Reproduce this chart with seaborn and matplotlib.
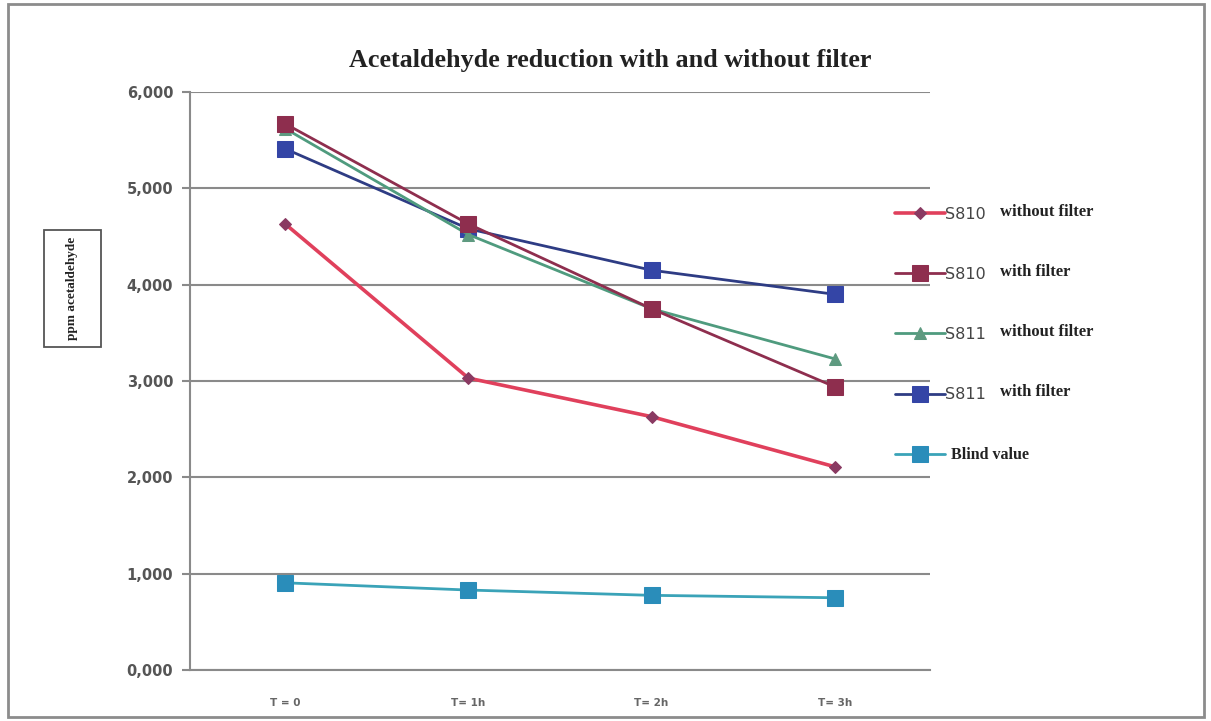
import matplotlib
matplotlib.use("Agg")
import matplotlib.pyplot as plt
from matplotlib.patches import Rectangle
import seaborn as sns
import pandas as pd

# Sampling times and measured acetaldehyde (ppm)
times = ["T = 0", "T= 1h", "T= 2h", "T= 3h"]
s810_without = [4630, 3030, 2630, 2110]
s810_with = [5670, 4630, 3750, 2940]
s811_without = [5620, 4520, 3750, 3230]
s811_with = [5410, 4580, 4150, 3900]
blind = [905, 830, 775, 750]

series_names = ["S810 without filter", "S810 with filter", "S811 without filter",
                "S811 with filter", "Blind value"]
series_values = [s810_without, s810_with, s811_without, s811_with, blind]
legend_main = ["S810", "S810", "S811", "S811", "Blind value"]
legend_suffix = ["without filter", "with filter", "without filter", "with filter", ""]
y_ticks = [0, 1000, 2000, 3000, 4000, 5000, 6000]
y_tick_labels = ["0,000", "1,000", "2,000", "3,000", "4,000", "5,000", "6,000"]

line_colors = ["#E0405C", "#8E2E4E", "#4F9B7E", "#2E3C84", "#3AA3B8"]
marker_colors = ["#8A3A62", "#8E2E4E", "#5E9A80", "#3445A6", "#2A8DBA"]
markers = ["D", "s", "^", "s", "s"]
marker_sizes = [6, 11, 9, 12, 11]
line_widths = [2.6, 2.0, 2.0, 2.0, 2.0]

sns.set_theme(style="white")
plt.rcParams["font.family"] = ["DejaVu Sans"]

W, H = 1211, 721
fig = plt.figure(figsize=(W / 100, H / 100), dpi=100)
ax = fig.add_axes([190 / W, 1 - 670 / H, (930 - 190) / W, (670 - 92) / H])

rows = []
for name, vals in zip(series_names, series_values):
    for t, v in zip(times, vals):
        rows.append({"time": t, "ppm": v, "series": name})
df = pd.DataFrame(rows)

handles = []
for i, name in enumerate(series_names):
    sub = df[df["series"] == name]
    sns.lineplot(data=sub, x="time", y="ppm", ax=ax, sort=False, errorbar=None,
                 color=line_colors[i], linewidth=line_widths[i], marker=markers[i],
                 markersize=marker_sizes[i], markerfacecolor=marker_colors[i],
                 markeredgecolor=marker_colors[i], legend=False, zorder=3 + (4 - i) * 0.1)
    handles.append(ax.lines[-1])

ax.set_xlim(-0.52, 3.52)
ax.set_ylim(0, 6000)
ax.set_yticks(y_ticks)
ax.set_yticklabels(y_tick_labels)
ax.set_xlabel("")
ax.set_ylabel("")
ax.yaxis.grid(True, color="#8a8a8a", linewidth=1.5)
ax.set_axisbelow(True)
for side in ["top", "right"]:
    ax.spines[side].set_visible(False)
for side in ["left", "bottom"]:
    ax.spines[side].set_color("#8a8a8a")
    ax.spines[side].set_linewidth(1.5)
ax.tick_params(axis="y", which="major", left=True, length=6, width=1.5, color="#8a8a8a",
               labelsize=10.5, labelcolor="#555555", pad=6)
ax.tick_params(axis="x", bottom=False, labelsize=7.5, labelcolor="#666666", pad=14)
for lbl in ax.get_yticklabels():
    lbl.set_fontweight("bold")
for lbl in ax.get_xticklabels():
    lbl.set_fontweight("bold")

# Title
fig.text(610 / W, 1 - 60 / H, "Acetaldehyde reduction with and without filter",
         ha="center", va="center", fontsize=18.8, fontweight="bold",
         family="Liberation Serif", color="#222222")

# Boxed y-axis title
fig.add_artist(Rectangle((44 / W, 1 - 347 / H), 57 / W, 117 / H,
                         transform=fig.transFigure, fill=False, edgecolor="#555555",
                         linewidth=1.3))
fig.text(72.5 / W, 1 - 288 / H, "ppm acetaldehyde", rotation=90, ha="center",
         va="center", fontsize=9.5, fontweight="bold", family="Liberation Serif",
         color="#222222")

# Outer frame
fig.add_artist(Rectangle((8 / W, 4 / H), 1196 / W, 713 / H,
                         transform=fig.transFigure, fill=False, edgecolor="#8c8c8c",
                         linewidth=2))

leg = fig.legend(handles=handles, labels=legend_main, loc="upper left",
                 bbox_to_anchor=(895 / W, 1 - 207 / H), frameon=False,
                 fontsize=11.5, labelspacing=2.82, handlelength=3.1, handletextpad=0.05,
                 borderaxespad=0, borderpad=0)
for i, txt in enumerate(leg.get_texts()):
    txt.set_color("#444444")
    if legend_suffix[i] == "":
        txt.set_family("Liberation Serif")
        txt.set_fontweight("bold")
        txt.set_color("#222222")
        txt.set_fontsize(11.5)
        txt.set_position((6, 0))

# Second part of each legend entry, set in bold serif right after the series code
fig.canvas.draw()
renderer = fig.canvas.get_renderer()
for i, txt in enumerate(leg.get_texts()):
    if legend_suffix[i]:
        bb = txt.get_window_extent(renderer)
        fig.text((bb.x1 + 14) / W, (bb.y0 + bb.y1) / 2 / H + 3 / H, legend_suffix[i],
                 ha="left", va="center", fontsize=12, fontweight="bold",
                 family="Liberation Serif", color="#222222")

fig.savefig("out.png", dpi=100, facecolor="white")
